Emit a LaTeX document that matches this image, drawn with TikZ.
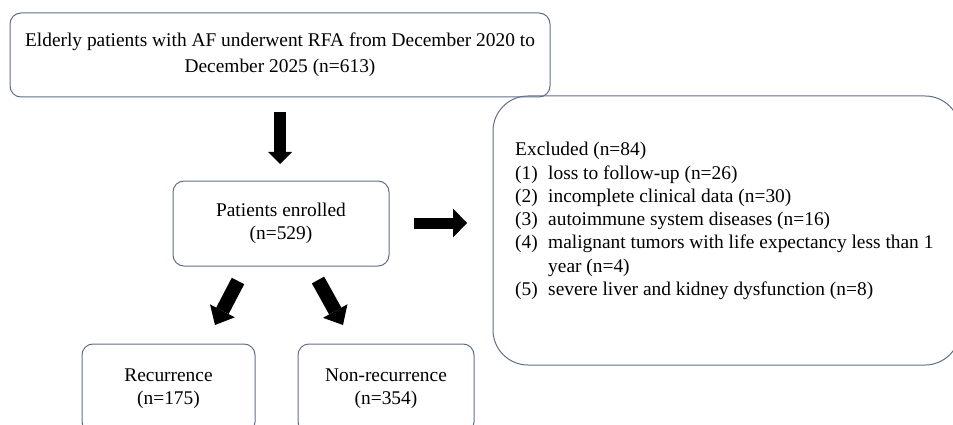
\documentclass[tikz,border=0pt]{standalone}
\usepackage{fontspec}
\setmainfont{Liberation Serif}
\usetikzlibrary{arrows.meta}

\begin{document}
\begin{tikzpicture}[x=1pt,y=1pt,yscale=-1,xscale=1,
  flowbox/.style={draw={rgb, 255:red, 95; green, 110; blue, 140 }, line width=1pt, rounded corners=11pt, inner sep=0pt, align=center, font=\fontsize{19.4}{23.3}\selectfont},
  blockarrow/.style args={#1/#2/#3}{line width=#1, -{Triangle[width=#2, length=#3, line width=0pt]}}]
\useasboundingbox (0,0) rectangle (953,425);

%Rounded Rect [id:start]
\node (start) [flowbox, minimum width=540, minimum height=84, font=\fontsize{19.4}{26}\selectfont] at (280,55) {Elderly patients with AF underwent RFA from December 2020 to\\December 2025 (n=613)};

%Rounded Rect [id:enrolled]
\node (enrolled) [flowbox, minimum width=216, minimum height=85] at (281,223.5) {Patients enrolled\\(n=529)};

%Rounded Rect [id:recur]
\node (recur) [flowbox, minimum width=173, minimum height=89] at (168.5,388.5) {Recurrence\\(n=175)};

%Rounded Rect [id:nonrecur]
\node (nonrecur) [flowbox, minimum width=176, minimum height=89] at (386,388.5) {Non-recurrence\\(n=354)};

%Rounded Rect [id:excluded]
\node (excluded) [flowbox, rounded corners=35pt, minimum width=467, minimum height=269] at (726.5,230.5) {};

% Text Node
\node (exclist) [anchor=west, align=left, inner sep=0pt, font=\fontsize{19.4}{23.3}\selectfont] at (515,221) {Excluded (n=84)\\
\makebox[33pt][l]{(1)}loss to follow-up (n=26)\\
\makebox[33pt][l]{(2)}incomplete clinical data (n=30)\\
\makebox[33pt][l]{(3)}autoimmune system diseases (n=16)\\
\makebox[33pt][l]{(4)}malignant tumors with life expectancy less than 1\\
\hspace*{33pt}year (n=4)\\
\makebox[33pt][l]{(5)}severe liver and kidney dysfunction (n=8)};

%Block Arrows
\coordinate (downtail) at (280,112);
\coordinate (downtip) at (280,164);
\coordinate (righttail) at (414,223);
\coordinate (righttip) at (467,223);
\coordinate (lefttail) at (238,281);
\coordinate (lefttip) at (215,325);
\coordinate (nontail) at (318,280);
\coordinate (nontip) at (343,325);

\draw [blockarrow=12pt/24pt/12pt] (downtail) -- (downtip);
\draw [blockarrow=11pt/29pt/14pt] (righttail) -- (righttip);
\draw [blockarrow=14pt/28pt/16pt] (lefttail) -- (lefttip);
\draw [blockarrow=14pt/28pt/16pt] (nontail) -- (nontip);

\end{tikzpicture}
\end{document}
